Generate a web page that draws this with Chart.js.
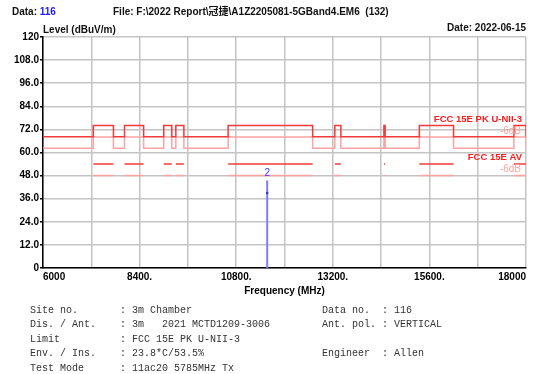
<!DOCTYPE html>
<html>
<head>
<meta charset="utf-8">
<script src="https://cdn.jsdelivr.net/npm/chart.js@4.4.1/dist/chart.umd.min.js"></script>
<style>
  html, body { margin: 0; padding: 0; background: #fff; }
  #wrap { position: relative; width: 539px; height: 374px; overflow: hidden; }
  #chart { position: absolute; left: 0; top: 0; }
  .hdr { position: absolute; font: bold 10px "Liberation Sans", Arial, "Noto Sans CJK SC", sans-serif; color: #111; white-space: pre; line-height: 12px; }
  .info { position: absolute; font: 10px "Liberation Mono", "Courier New", monospace; color: #333; white-space: pre; line-height: 14.4px; margin: 0; }
</style>
</head>
<body>
<div id="wrap">
  <canvas id="chart" width="539" height="374"></canvas>
  <div class="hdr" style="left:12px; top:6px;">Data: <span style="color:#1a1aff">116</span></div>
  <div class="hdr" style="left:113px; top:6px;">File: F:\2022 Report\冠捷\A1Z2205081-5GBand4.EM6  (132)</div>
  <div class="hdr" style="left:43px; top:24px;">Level (dBuV/m)</div>
  <div class="hdr" style="right:13px; top:22px;">Date: 2022-06-15</div>
  <pre class="info" style="left:30px; top:304px;">Site no.       : 3m Chamber
Dis. / Ant.    : 3m   2021 MCTD1209-3006
Limit          : FCC 15E PK U-NII-3
Env. / Ins.    : 23.8*C/53.5%
Test Mode      : 11ac20 5785MHz Tx</pre>
  <pre class="info" style="left:322px; top:304px;">Data no.  : 116
Ant. pol. : VERTICAL

Engineer  : Allen</pre>
</div>
<script>
// axis range and tick labels (MHz / dBuV/m)
var freqMin = 6000;
var freqMax = 18000;
var xTickLabels = ['6000', '8400.', '10800.', '13200.', '15600.', '18000'];
var yTickLabels = ['0', '12.0', '24.0', '36.0', '48.0', '60.0', '72.0', '84.0', '96.0', '108.0', '120'];

// FCC 15.205 restricted bands inside the sweep (MHz)
var restrictedBands = [
  [7250, 7750], [8025, 8500], [9000, 9200], [9300, 9500], [10600, 12700],
  [13250, 13400], [14470, 14500], [15350, 16200], [17700, 18000]
];
var pkLimitRestricted = 74;
var pkLimitOther = 68.2;
var avLimitRestricted = 54;
var marginDb = 6;

// marker 2 (2nd harmonic)
var markerFreq = 11570;
var markerPeak = 45.5;
var markerAvg = 39.0;

var RED = '#f23a3a';
var PINK = '#ffa3a3';
var GRID = '#c4c4c4';

function limitSteps(inBand, outBand) {
  var pts = [{ x: freqMin, y: outBand }];
  restrictedBands.forEach(function (b) {
    pts.push({ x: b[0], y: outBand }, { x: b[0], y: inBand }, { x: b[1], y: inBand }, { x: b[1], y: outBand });
  });
  pts.push({ x: freqMax, y: outBand });
  return pts;
}

function bandSegments(level) {
  var pts = [];
  restrictedBands.forEach(function (b) {
    pts.push({ x: b[0], y: level }, { x: b[1], y: level }, { x: b[1], y: null });
  });
  return pts;
}

var overlayText = {
  id: 'overlayText',
  afterDraw: function (chart) {
    var ctx = chart.ctx;
    var xs = chart.scales.x, ys = chart.scales.y;
    ctx.save();
    ctx.textAlign = 'right';
    ctx.textBaseline = 'middle';
    ctx.font = 'bold 9.5px "Liberation Sans", Arial, sans-serif';
    ctx.fillStyle = '#ff1a1a';
    ctx.fillText('FCC 15E PK U-NII-3', 522, 119);
    ctx.fillText('FCC 15E AV', 522, 157);
    ctx.font = '10px "Liberation Sans", Arial, sans-serif';
    ctx.fillStyle = PINK;
    ctx.fillText('-6dB', 521, 131);
    ctx.fillText('-6dB', 521, 169);
    // marker label
    ctx.textAlign = 'center';
    ctx.font = '10px "Liberation Sans", Arial, sans-serif';
    ctx.fillStyle = '#3a3aff';
    ctx.fillText('2', xs.getPixelForValue(markerFreq), ys.getPixelForValue(markerPeak) - 7);
    ctx.restore();
  }
};

new Chart(document.getElementById('chart'), {
  type: 'line',
  data: {
    datasets: [
      { data: [{ x: markerFreq, y: markerAvg }], showLine: false, pointRadius: 1.2, pointBackgroundColor: '#2c2cc8', pointBorderWidth: 0 },
      { data: [{ x: markerFreq, y: 0 }, { x: markerFreq, y: markerPeak }], borderColor: '#7d7dff', borderWidth: 2, pointRadius: 0 },
      { data: limitSteps(pkLimitRestricted, pkLimitOther), borderColor: RED, borderWidth: 1.5, pointRadius: 0 },
      { data: bandSegments(avLimitRestricted), borderColor: RED, borderWidth: 1.5, pointRadius: 0, spanGaps: false },
      { data: limitSteps(pkLimitRestricted - marginDb, pkLimitOther - marginDb), borderColor: PINK, borderWidth: 1.5, pointRadius: 0 },
      { data: bandSegments(avLimitRestricted - marginDb), borderColor: PINK, borderWidth: 1.5, pointRadius: 0, spanGaps: false }
    ]
  },
  options: {
    responsive: false,
    animation: false,
    events: [],
    layout: { padding: { left: 0, top: 37, right: 13, bottom: 77 } },
    plugins: { legend: { display: false }, tooltip: { enabled: false } },
    scales: {
      x: {
        type: 'linear',
        min: freqMin,
        max: freqMax,
        afterFit: function (s) { s.height = 29; },
        grid: { color: GRID, lineWidth: 1.5, drawTicks: false },
        border: { color: '#000', width: 1.5 },
        ticks: {
          stepSize: 1200,
          autoSkip: false,
          maxRotation: 0,
          align: 'inner',
          padding: 3,
          color: '#000',
          font: { family: '"Liberation Sans", Arial, sans-serif', size: 10, weight: 'bold' },
          callback: function (v, i) { return i % 2 === 0 ? xTickLabels[i / 2] : ''; }
        },
        title: {
          display: true,
          text: 'Frequency (MHz)',
          color: '#000',
          padding: { top: 0, bottom: 0 },
          font: { family: '"Liberation Sans", Arial, sans-serif', size: 10, weight: 'bold' }
        }
      },
      y: {
        min: 0,
        max: 120,
        afterFit: function (s) { s.width = 43; },
        grid: { color: GRID, lineWidth: 1.5, tickLength: 3, tickColor: '#000' },
        border: { color: '#000', width: 1.5 },
        ticks: {
          stepSize: 12,
          padding: 1,
          color: '#000',
          font: { family: '"Liberation Sans", Arial, sans-serif', size: 10, weight: 'bold' },
          callback: function (v, i) { return yTickLabels[i]; }
        }
      }
    }
  },
  plugins: [overlayText]
});
</script>
</body>
</html>
